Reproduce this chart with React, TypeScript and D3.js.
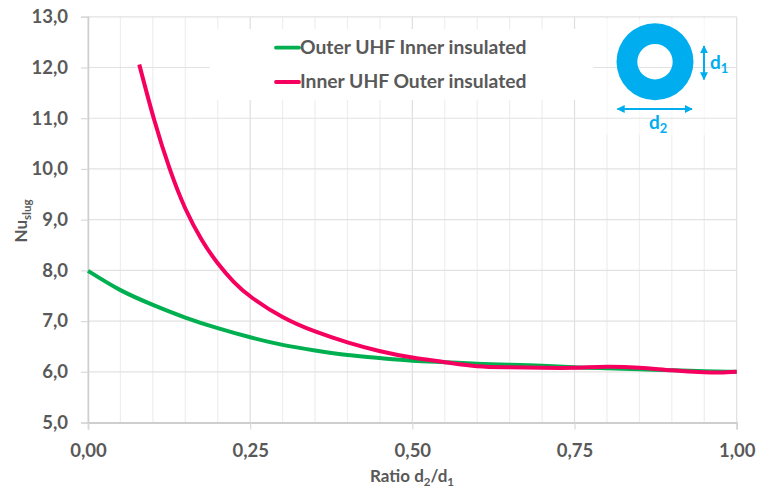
import React, { useEffect, useRef } from 'react'
import * as d3 from 'd3'

const outerX = [0, 0.05, 0.1, 0.15, 0.2, 0.25, 0.3, 0.35, 0.4, 0.45, 0.5, 0.55, 0.6, 0.65, 0.7, 0.75, 0.8, 0.85, 0.9, 0.95, 1]
const outerY = [7.99, 7.61, 7.32, 7.07, 6.86, 6.68, 6.53, 6.42, 6.33, 6.27, 6.22, 6.19, 6.16, 6.14, 6.12, 6.09, 6.07, 6.05, 6.03, 6.01, 6.0]
const innerX = [0.079, 0.102, 0.126, 0.15, 0.175, 0.2, 0.225, 0.254, 0.3, 0.349, 0.4, 0.449, 0.5, 0.55, 0.6, 0.65, 0.7, 0.75, 0.8, 0.85, 0.9, 0.95, 0.975, 1]
const innerY = [12.06, 10.97, 10, 9.22, 8.61, 8.14, 7.77, 7.45, 7.08, 6.8, 6.58, 6.41, 6.28, 6.19, 6.11, 6.09, 6.08, 6.08, 6.1, 6.08, 6.03, 5.99, 5.985, 6.0]
const xMajor = [0, 0.25, 0.5, 0.75, 1]
const xMinor = [0.05, 0.1, 0.15, 0.2, 0.3, 0.35, 0.4, 0.45, 0.55, 0.6, 0.65, 0.7, 0.8, 0.85, 0.9, 0.95]
const yTicks = [5, 6, 7, 8, 9, 10, 11, 12, 13]
const legendNames = ['Outer UHF Inner insulated', 'Inner UHF Outer insulated']

const GREEN = '#00b050'
const PINK = '#f5005f'
const BLUE = '#00aeef'
const TEXT = '#595959'
const FONT = 'Lato, "Open Sans", sans-serif'

export default function App() {
    const ref = useRef<SVGSVGElement>(null)

    useEffect(() => {
        const svg = d3.select(ref.current)
        svg.selectAll('*').remove()

        const x = d3.scaleLinear().domain([0, 1]).range([88, 736.7])
        const y = d3.scaleLinear().domain([5, 13]).range([422.5, 16.8])
        const comma = d3.formatLocale({ decimal: ',', thousands: '.', grouping: [3], currency: ['', ''] })

        // grid
        const grid = svg.append('g')
        grid.selectAll('.minor').data(xMinor).join('line')
            .attr('x1', d => x(d)).attr('x2', d => x(d))
            .attr('y1', y(13)).attr('y2', y(5))
            .attr('stroke', '#eeeeee').attr('stroke-width', 1.2)
        grid.selectAll('.major').data(xMajor).join('line')
            .attr('x1', d => x(d)).attr('x2', d => x(d))
            .attr('y1', y(13)).attr('y2', y(5))
            .attr('stroke', '#dfdfdf').attr('stroke-width', 1.2)
        svg.append('rect')
            .attr('x', 593).attr('y', 19).attr('width', 142).attr('height', 116)
            .attr('fill', '#fff').attr('opacity', 0.6)
        const hGrid = svg.append('g')
        hGrid.selectAll('line').data(yTicks.slice(1)).join('line')
            .attr('x1', x(0)).attr('x2', x(1))
            .attr('y1', d => y(d)).attr('y2', d => y(d))
            .attr('stroke', '#e2e2e2').attr('stroke-width', 1.2)
        svg.append('rect')
            .attr('x', 210).attr('y', 29).attr('width', 383).attr('height', 71)
            .attr('fill', '#fff')

        // axes
        const yAxis = svg.append('g')
            .attr('transform', `translate(${x(0)},0)`)
            .call(d3.axisLeft(y).tickValues(yTicks).tickSize(7).tickPadding(13).tickFormat(d => comma.format('.1f')(+d)))
        const xAxis = svg.append('g')
            .attr('transform', `translate(0,${y(5)})`)
            .call(d3.axisBottom(x).tickValues(xMajor).tickSize(7).tickPadding(14).tickFormat(d => comma.format('.2f')(+d)))
        for (const axis of [yAxis, xAxis]) {
            axis.selectAll('.domain').attr('stroke', '#cfcfcf').attr('stroke-width', 1.5)
            axis.selectAll('line').attr('stroke', '#d9d9d9').attr('stroke-width', 1.2)
            axis.selectAll('text')
                .attr('fill', TEXT).attr('font-family', FONT)
                .attr('font-size', 18.5).attr('font-weight', 700)
        }
        xAxis.select('.domain').attr('stroke', '#bfbfbf')

        // curves
        const line = d3.line<[number, number]>()
            .x(d => x(d[0])).y(d => y(d[1]))
            .curve(d3.curveNatural)
        svg.append('path')
            .attr('d', line(outerX.map((v, i) => [v, outerY[i]] as [number, number])))
            .attr('fill', 'none').attr('stroke', GREEN).attr('stroke-width', 4)
        svg.append('path')
            .attr('d', line(innerX.map((v, i) => [v, innerY[i]] as [number, number])))
            .attr('fill', 'none').attr('stroke', PINK).attr('stroke-width', 4)

        // legend
        legendNames.forEach((name, i) => {
            const ly = i === 0 ? 47.7 : 82
            svg.append('line')
                .attr('x1', 276).attr('x2', 299).attr('y1', ly).attr('y2', ly)
                .attr('stroke', i === 0 ? GREEN : PINK).attr('stroke-width', 3.8)
                .attr('stroke-linecap', 'round')
            svg.append('text')
                .attr('x', 300).attr('y', ly + 6)
                .attr('fill', TEXT).attr('font-family', FONT)
                .attr('font-size', 19.3).attr('font-weight', 700)
                .text(name)
        })

        // axis titles
        const yTitle = svg.append('text')
            .attr('transform', 'translate(27,221) rotate(-90)')
            .attr('text-anchor', 'middle')
            .attr('fill', TEXT).attr('font-family', FONT)
            .attr('font-size', 17).attr('font-weight', 700)
        yTitle.append('tspan').text('Nu')
        yTitle.append('tspan').attr('dy', 4).attr('font-size', '0.68em').text('slug')

        const xTitle = svg.append('text')
            .attr('x', 412).attr('y', 482)
            .attr('text-anchor', 'middle')
            .attr('fill', TEXT).attr('font-family', FONT)
            .attr('font-size', 17).attr('font-weight', 700)
        xTitle.append('tspan').text('Ratio d')
        xTitle.append('tspan').attr('dy', 4).attr('font-size', '0.68em').text('2')
        xTitle.append('tspan').attr('dy', -4).text('/d')
        xTitle.append('tspan').attr('dy', 4).attr('font-size', '0.68em').text('1')

        // annulus sketch
        const ring = d3.arc()({ innerRadius: 17.7, outerRadius: 38.5, startAngle: 0, endAngle: 2 * Math.PI })
        svg.append('path')
            .attr('transform', 'translate(655,61.7)')
            .attr('d', ring as string)
            .attr('fill', BLUE)

        const defs = svg.append('defs')
        defs.append('marker')
            .attr('id', 'tip').attr('viewBox', '0 0 10 10')
            .attr('refX', 9).attr('refY', 5)
            .attr('markerWidth', 4).attr('markerHeight', 4)
            .attr('orient', 'auto-start-reverse')
            .append('path').attr('d', 'M0,0L10,5L0,10Z').attr('fill', BLUE)
        svg.append('line')
            .attr('x1', 704).attr('x2', 704).attr('y1', 46).attr('y2', 79.5)
            .attr('stroke', BLUE).attr('stroke-width', 2)
            .attr('marker-start', 'url(#tip)').attr('marker-end', 'url(#tip)')
        svg.append('line')
            .attr('x1', 617.5).attr('x2', 692).attr('y1', 109).attr('y2', 109)
            .attr('stroke', BLUE).attr('stroke-width', 2)
            .attr('marker-start', 'url(#tip)').attr('marker-end', 'url(#tip)')

        const d1 = svg.append('text')
            .attr('x', 710).attr('y', 69)
            .attr('fill', BLUE).attr('font-family', FONT)
            .attr('font-size', 19).attr('font-weight', 700)
        d1.append('tspan').text('d')
        d1.append('tspan').attr('dy', 4).attr('font-size', '0.68em').text('1')
        const d2 = svg.append('text')
            .attr('x', 649).attr('y', 129)
            .attr('fill', BLUE).attr('font-family', FONT)
            .attr('font-size', 19).attr('font-weight', 700)
        d2.append('tspan').text('d')
        d2.append('tspan').attr('dy', 4).attr('font-size', '0.68em').text('2')
    }, [])

    return <svg ref={ref} width={758} height={492} style={{ position: 'absolute', left: 0, top: 0 }} />
}
